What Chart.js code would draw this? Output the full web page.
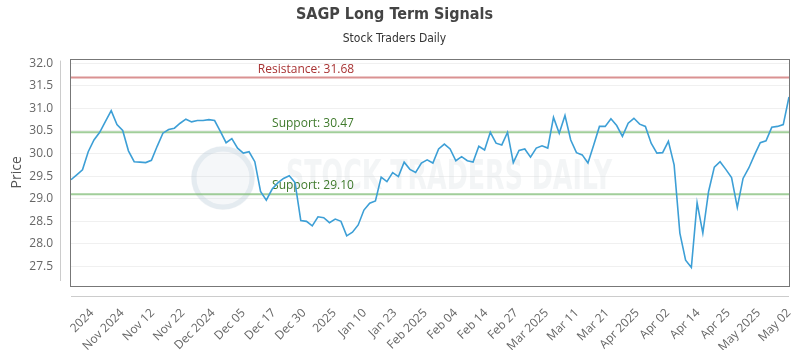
<!DOCTYPE html>
<html>
<head>
<meta charset="utf-8">
<script src="https://cdn.jsdelivr.net/npm/chart.js@4.4.0/dist/chart.umd.min.js"></script>
<style>
  html, body { margin: 0; padding: 0; background: #fff; }
  #signalChart { display: block; }
</style>
</head>
<body>
<canvas id="signalChart"></canvas>
<script>
// daily closes
const prices = [
  29.42, 29.53, 29.64, 30.04, 30.30, 30.47, 30.71, 30.95, 30.64, 30.51,
  30.06, 29.82, 29.81, 29.80, 29.85, 30.16, 30.45, 30.53, 30.56, 30.67,
  30.76, 30.70, 30.73, 30.73, 30.75, 30.73, 30.49, 30.24, 30.33, 30.12,
  30.01, 30.04, 29.82, 29.16, 28.97, 29.21, 29.35, 29.45, 29.51, 29.36,
  28.52, 28.50, 28.40, 28.60, 28.58, 28.47, 28.55, 28.50, 28.18, 28.26,
  28.42, 28.75, 28.90, 28.95, 29.48, 29.38, 29.58, 29.49, 29.81, 29.65,
  29.58, 29.79, 29.86, 29.79, 30.10, 30.21, 30.10, 29.84, 29.93, 29.84,
  29.81, 30.16, 30.08, 30.47, 30.23, 30.19, 30.47, 29.80, 30.07, 30.10,
  29.92, 30.12, 30.17, 30.12, 30.80, 30.45, 30.84, 30.30, 30.02, 29.97,
  29.79, 30.19, 30.60, 30.60, 30.77, 30.62, 30.38, 30.67, 30.78, 30.65,
  30.60, 30.23, 30.01, 30.02, 30.27, 29.75, 28.24, 27.64, 27.48, 28.91,
  28.24, 29.16, 29.70, 29.82, 29.65, 29.47, 28.81, 29.45, 29.68, 29.97,
  30.24, 30.28, 30.58, 30.60, 30.64, 31.25
];

const tickLabels = [
  "2024", "Nov 2024", "Nov 12", "Nov 22", "Dec 2024", "Dec 05", "Dec 17", "Dec 30",
  "2025", "Jan 10", "Jan 23", "Feb 2025", "Feb 04", "Feb 14", "Feb 27", "Mar 2025",
  "Mar 11", "Mar 21", "Apr 2025", "Apr 02", "Apr 14", "Apr 25", "May 2025", "May 02"
];

const priceTicks = [27.5, 28.0, 28.5, 29.0, 29.5, 30.0, 30.5, 31.0, 31.5, 32.0];

const levelValues = [31.68, 30.47, 29.10];
const levelLabels = ["Resistance: 31.68", "Support: 30.47", "Support: 29.10"];

const lastIdx = prices.length - 1;
const tickStep = 5.276; // data points between two date labels

const levelLines = {
  id: "levelLines",
  beforeDatasetsDraw(chart) {
    const { ctx, chartArea: a, scales } = chart;
    ctx.save();
    // watermark
    ctx.fillStyle = "rgba(190, 205, 218, 0.16)";
    ctx.beginPath();
    ctx.arc(223, 178, 32, 0, Math.PI * 2);
    ctx.fill();
    ctx.strokeStyle = "rgba(190, 205, 218, 0.3)";
    ctx.lineWidth = 5;
    ctx.beginPath();
    ctx.arc(223, 178, 29, 0, Math.PI * 2);
    ctx.stroke();
    ctx.font = "bold 40px 'DejaVu Sans Condensed', 'Liberation Sans', sans-serif";
    ctx.fillStyle = "rgba(200, 208, 215, 0.22)";
    ctx.textAlign = "left";
    ctx.textBaseline = "middle";
    ctx.fillText("STOCK TRADERS DAILY", 286, 179, 326);

    levelValues.forEach((v, i) => {
      const y = scales.y.getPixelForValue(v);
      const isRes = i === 0;
      ctx.strokeStyle = isRes ? "rgba(205, 110, 110, 0.75)" : "rgba(130, 190, 120, 0.75)";
      ctx.lineWidth = 2;
      ctx.beginPath();
      ctx.moveTo(a.left, y);
      ctx.lineTo(a.right, y);
      ctx.stroke();
      ctx.font = "12px 'Open Sans', sans-serif";
      ctx.fillStyle = isRes ? "#a83232" : "#3f7a2c";
      ctx.textAlign = "center";
      ctx.textBaseline = "middle";
      ctx.fillText(levelLabels[i], isRes ? 306 : 313, y - 8.5);
    });
    ctx.restore();
  },
  afterDraw(chart) {
    const { ctx, chartArea: a } = chart;
    ctx.save();
    ctx.lineWidth = 1;
    ctx.strokeStyle = "#777";
    ctx.strokeRect(Math.round(a.left) - 0.5, Math.round(a.top) + 0.5,
      Math.round(a.right - a.left) + 1, Math.round(a.bottom - a.top));
    ctx.strokeStyle = "#ccc";
    ctx.beginPath();
    ctx.moveTo(Math.round(a.left) - 10.5, a.top + 2);
    ctx.lineTo(Math.round(a.left) - 10.5, a.bottom - 5);
    ctx.moveTo(a.left, Math.round(a.bottom) + 10.5);
    ctx.lineTo(a.right, Math.round(a.bottom) + 10.5);
    ctx.stroke();
    ctx.restore();
  }
};

const canvas = document.getElementById("signalChart");
canvas.width = 800;
canvas.height = 350;
const ctx = canvas.getContext("2d");

const signalChart = new Chart(ctx, {
  type: "line",
  data: {
    datasets: [
      {
        label: "Price",
        data: prices.map((p, i) => ({ x: i, y: p })),
        borderColor: "#3d9fd6",
        borderWidth: 1.6,
        pointRadius: 0,
        tension: 0,
        fill: false,
      },
    ],
  },
  options: {
    responsive: false,
    animation: false,
    layout: { padding: { left: 0, right: 11, top: 0, bottom: 0 } },
    scales: {
      x: {
        type: "linear",
        min: 0,
        max: lastIdx,
        grid: { display: false, drawTicks: false },
        border: { display: false },
        afterBuildTicks(scale) {
          scale.ticks = tickLabels.map((l, j) => ({
            value: lastIdx - (tickLabels.length - 1 - j) * tickStep,
          }));
        },
        afterFit(scale) {
          scale.height = 64;
          scale.paddingLeft = 0;
          scale.paddingRight = 0;
        },
        ticks: {
          autoSkip: false,
          minRotation: 45,
          maxRotation: 45,
          padding: 20,
          color: "#666",
          font: { family: "'Open Sans', sans-serif", size: 12 },
          callback: (v, i) => tickLabels[i],
        },
      },
      y: {
        min: 27.07,
        max: 32.1,
        grid: { color: "#f0f0f0", drawTicks: false },
        border: { display: false },
        afterBuildTicks(scale) {
          scale.ticks = priceTicks.map((v) => ({ value: v }));
        },
        afterFit(scale) {
          scale.width = 71;
        },
        ticks: {
          padding: 18,
          color: "#666",
          font: { family: "'Open Sans', sans-serif", size: 12 },
          callback: (v) => Number(v).toFixed(1),
        },
        title: {
          display: true,
          text: "Price",
          color: "#555",
          padding: { top: 9, bottom: 0 },
          font: { family: "'Open Sans', sans-serif", size: 14 },
        },
      },
    },
    plugins: {
      legend: { display: false },
      tooltip: { enabled: false },
      title: {
        display: true,
        text: "SAGP Long Term Signals",
        color: "#444",
        padding: { top: 5, bottom: 7 },
        font: { family: "'DejaVu Sans Condensed', 'Liberation Sans', sans-serif", size: 16, weight: "bold" },
      },
      subtitle: {
        display: true,
        text: "Stock Traders Daily",
        color: "#333",
        padding: { top: 0, bottom: 13 },
        font: { family: "'DejaVu Sans Condensed', 'Liberation Sans', sans-serif", size: 12 },
      },
    },
  },
  plugins: [levelLines],
});
</script>
</body>
</html>
